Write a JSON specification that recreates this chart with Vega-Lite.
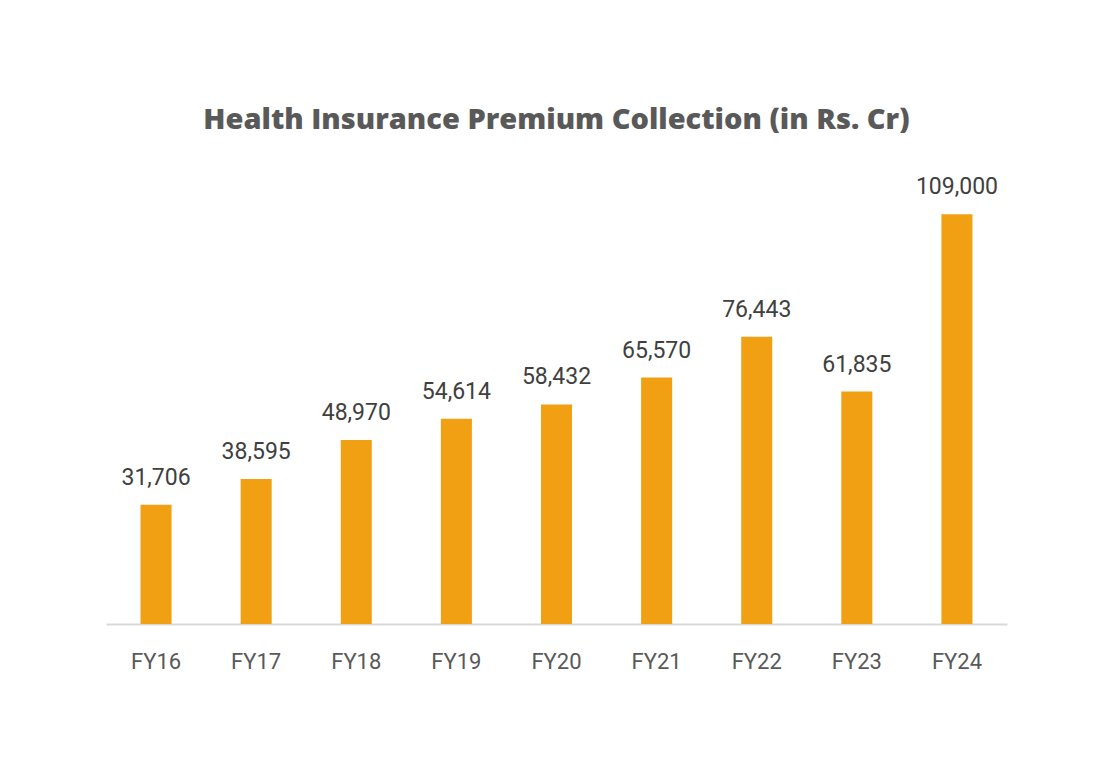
{
  "$schema": "https://vega.github.io/schema/vega-lite/v6.json",
  "width": 901,
  "height": 451,
  "autosize": {"type": "none"},
  "padding": {"left": 106, "top": 173, "right": 87, "bottom": 133},
  "background": "#ffffff",
  "config": {"view": {"stroke": null}},
  "title": {
    "text": "Health Insurance Premium Collection (in Rs. Cr)",
    "font": "Open Sans",
    "fontSize": 29,
    "fontWeight": 800,
    "color": "#595959",
    "anchor": "middle",
    "offset": 38
  },
  "data": {
    "values": [
      {"year": "FY16", "premium": 31706},
      {"year": "FY17", "premium": 38595},
      {"year": "FY18", "premium": 48970},
      {"year": "FY19", "premium": 54614},
      {"year": "FY20", "premium": 58432},
      {"year": "FY21", "premium": 65570},
      {"year": "FY22", "premium": 76443},
      {"year": "FY23", "premium": 61835},
      {"year": "FY24", "premium": 109000}
    ]
  },
  "encoding": {
    "x": {
      "field": "year",
      "type": "nominal",
      "sort": null,
      "scale": {"paddingInner": 0.69, "paddingOuter": 0.345},
      "axis": {
        "title": null,
        "labelAngle": 0,
        "labelFont": "Roboto",
        "labelFontSize": 22,
        "labelFontWeight": 400,
        "labelColor": "#595959",
        "labelPadding": 27,
        "ticks": false,
        "domainColor": "#d9d9d9",
        "domainWidth": 2
      }
    },
    "y": {
      "field": "premium",
      "type": "quantitative",
      "scale": {"domain": [0, 120000]},
      "axis": null
    }
  },
  "layer": [
    {"mark": {"type": "bar", "color": "#f1a013"}},
    {
      "mark": {"type": "text", "baseline": "bottom", "dy": -15, "font": "Roboto", "fontSize": 23, "fontWeight": 400, "color": "#404040"},
      "encoding": {"text": {"field": "premium", "type": "quantitative", "format": ","}}
    }
  ]
}
